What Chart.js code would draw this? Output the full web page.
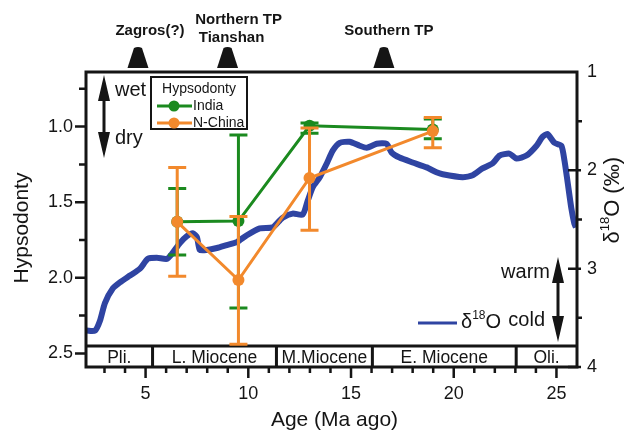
<!DOCTYPE html>
<html>
<head>
<meta charset="utf-8">
<script src="https://cdn.jsdelivr.net/npm/chart.js@4.4.1/dist/chart.umd.min.js"></script>
<style>
  html, body { margin: 0; padding: 0; background: #fff; }
  #wrap { width: 630px; height: 431px; }
</style>
</head>
<body>
<div id="wrap"><canvas id="chart"></canvas></div>
<script>
// hypsodonty means and error bars, per sample age (Ma)
const sampleAges = [6.54, 9.52, 12.98, 18.98];
const indiaHyp = [1.63, 1.625, 0.995, 1.02];
const indiaLow = [1.41, 1.055, 0.976, 0.95];
const indiaHigh = [1.85, 2.2, 1.044, 1.08];
const chinaHyp = [1.63, 2.015, 1.34, 1.03];
const chinaLow = [1.27, 1.595, 1.01, 0.94];
const chinaHigh = [1.99, 2.44, 1.685, 1.14];

// benthic d18O curve (right axis)
const isoAges = [2.13, 2.54, 2.78, 3.02, 3.41, 3.75, 4.24, 4.73, 5.11, 5.55, 6.04, 6.28, 6.67, 7.01, 7.30, 7.50,
  7.64, 7.98, 8.47, 8.95, 9.44, 9.93, 10.56, 11.19, 11.53, 11.68, 12.16, 12.65, 12.89, 13.14, 13.48, 13.82,
  14.11, 14.45, 14.93, 15.42, 15.76, 16.25, 16.73, 16.98, 17.36, 18.00, 18.68, 19.16, 19.46, 20.43, 20.92,
  21.40, 21.89, 22.23, 22.71, 23.05, 23.54, 24.03, 24.32, 24.56, 24.90, 25.24, 25.39, 25.53, 25.72, 25.87, 25.95];
const isoValues = [3.63, 3.63, 3.53, 3.35, 3.20, 3.14, 3.07, 3.00, 2.90, 2.89, 2.90, 2.85, 2.74, 2.67, 2.64, 2.68,
  2.81, 2.81, 2.79, 2.76, 2.73, 2.66, 2.59, 2.58, 2.51, 2.48, 2.44, 2.45, 2.31, 2.17, 2.07, 1.93,
  1.80, 1.72, 1.71, 1.75, 1.77, 1.73, 1.73, 1.82, 1.87, 1.92, 1.97, 2.02, 2.04, 2.07, 2.05,
  1.98, 1.93, 1.85, 1.83, 1.88, 1.85, 1.75, 1.66, 1.63, 1.72, 1.75, 1.90, 2.10, 2.38, 2.54, 2.58];

// tick labels
const ageTicks = [5, 10, 15, 20, 25];
const hypTicks = [1.0, 1.5, 2.0, 2.5];
const isoTicks = [1, 2, 3, 4];

// epochs along the bottom strip
const epochNames = ['Pli.', 'L. Miocene', 'M.Miocene', 'E. Miocene', 'Oli.'];
const epochBounds = [2.1, 5.34, 11.37, 16.04, 23.04, 26];

// uplift events marked above the plot
const upliftAges = [4.63, 8.99, 16.6];
const upliftLabels = [['Zagros(?)'], ['Northern TP', 'Tianshan'], ['Southern TP']];

const FONT = '"Liberation Sans", Arial, Helvetica, sans-serif';
const INK = '#151515';
const GREEN = '#1b8a1f';
const ORANGE = '#f2892c';
const BLUE = '#2f44a2';

Chart.defaults.font.family = FONT;
Chart.defaults.color = INK;

const toPoints = (xs, ys) => xs.map((v, i) => ({ x: v, y: ys[i] }));
const fixedTicks = values => scale => { scale.ticks = values.map(v => ({ value: v })); };

// error bars keyed by dataset index
const errorBars = {
    0: { low: chinaLow, high: chinaHigh, color: ORANGE },
    1: { low: indiaLow, high: indiaHigh, color: GREEN }
};

function arrowHead(ctx, x, tipY, dir, len, halfW) {
    ctx.beginPath();
    ctx.moveTo(x, tipY);
    ctx.lineTo(x - halfW, tipY + dir * len);
    ctx.lineTo(x + halfW, tipY + dir * len);
    ctx.closePath();
    ctx.fill();
}

function doubleArrow(ctx, x, y1, y2) {
    ctx.fillStyle = INK;
    ctx.strokeStyle = INK;
    ctx.lineWidth = 3;
    ctx.beginPath();
    ctx.moveTo(x, y1 + 10);
    ctx.lineTo(x, y2 - 10);
    ctx.stroke();
    arrowHead(ctx, x, y1, 1, 26, 6);
    arrowHead(ctx, x, y2, -1, 26, 6);
}

// d18O with a raised 18
function drawIsoLabel(ctx, x, y, size) {
    ctx.textBaseline = 'middle';
    ctx.textAlign = 'left';
    ctx.font = size + 'px ' + FONT;
    ctx.fillText('\u03B4', x, y);
    let w = ctx.measureText('\u03B4').width;
    ctx.font = Math.round(size * 0.6) + 'px ' + FONT;
    ctx.fillText('18', x + w, y - size * 0.33);
    w += ctx.measureText('18').width;
    ctx.font = size + 'px ' + FONT;
    ctx.fillText('O', x + w, y);
    return w + ctx.measureText('O').width;
}

const decor = {
    id: 'decor',
    beforeDatasetsDraw(chart) {
        const { ctx, chartArea: ca, scales: { x } } = chart;
        const top = ca.bottom - 21;
        ctx.save();
        ctx.strokeStyle = INK;
        ctx.lineWidth = 3;
        ctx.beginPath();
        ctx.moveTo(ca.left, top);
        ctx.lineTo(ca.right, top);
        epochBounds.slice(1, -1).forEach(a => {
            const px = x.getPixelForValue(a);
            ctx.moveTo(px, top);
            ctx.lineTo(px, ca.bottom);
        });
        ctx.stroke();
        ctx.fillStyle = INK;
        ctx.font = '17.5px ' + FONT;
        ctx.textAlign = 'center';
        ctx.textBaseline = 'middle';
        epochNames.forEach((n, i) => {
            const l = Math.max(x.getPixelForValue(epochBounds[i]), ca.left);
            const r = Math.min(x.getPixelForValue(epochBounds[i + 1]), ca.right);
            ctx.fillText(n, (l + r) / 2, top + 12);
        });
        ctx.restore();
    },
    beforeDatasetDraw(chart, args) {
        const bars = errorBars[args.index];
        if (!bars) return;
        const { ctx, scales: { x, y } } = chart;
        ctx.save();
        ctx.strokeStyle = bars.color;
        ctx.lineWidth = 3;
        ctx.beginPath();
        sampleAges.forEach((a, i) => {
            const px = x.getPixelForValue(a);
            const y1 = y.getPixelForValue(bars.low[i]);
            const y2 = y.getPixelForValue(bars.high[i]);
            ctx.moveTo(px, y1);
            ctx.lineTo(px, y2);
            ctx.moveTo(px - 9, y1);
            ctx.lineTo(px + 9, y1);
            ctx.moveTo(px - 9, y2);
            ctx.lineTo(px + 9, y2);
        });
        ctx.stroke();
        ctx.restore();
    },
    afterDraw(chart) {
        const { ctx, chartArea: ca, scales: { x, y, y2 } } = chart;
        ctx.save();

        // frame
        ctx.strokeStyle = INK;
        ctx.lineWidth = 3;
        ctx.strokeRect(ca.left, ca.top, ca.right - ca.left, ca.bottom - ca.top);

        // tick marks
        ctx.lineWidth = 2.5;
        ctx.beginPath();
        for (let a = 3; a <= 25; a++) {
            const px = x.getPixelForValue(a);
            ctx.moveTo(px, ca.bottom);
            ctx.lineTo(px, ca.bottom + (a % 5 === 0 ? 11 : 6));
        }
        for (let v = 0.75; v <= 2.5001; v += 0.25) {
            const py = y.getPixelForValue(v);
            const major = Math.abs(v * 2 - Math.round(v * 2)) < 1e-6;
            ctx.moveTo(ca.left, py);
            ctx.lineTo(ca.left - (major ? 11 : 7), py);
        }
        for (let v = 1.5; v <= 4; v += 0.5) {
            const py = y2.getPixelForValue(v);
            if (Number.isInteger(v)) {
                ctx.moveTo(ca.right - 9, py);
                ctx.lineTo(ca.right + 4, py);
            } else {
                ctx.moveTo(ca.right, py);
                ctx.lineTo(ca.right + 5, py);
            }
        }
        ctx.stroke();

        // axis titles
        ctx.fillStyle = INK;
        ctx.font = '21px ' + FONT;
        ctx.textAlign = 'center';
        ctx.textBaseline = 'middle';
        ctx.fillText('Age (Ma ago)', (ca.left + ca.right) / 2 + 3, 420);
        ctx.save();
        ctx.translate(22, 228);
        ctx.rotate(-Math.PI / 2);
        ctx.fillText('Hypsodonty', 0, 0);
        ctx.restore();
        ctx.save();
        ctx.translate(613, 202);
        ctx.rotate(-Math.PI / 2);
        ctx.font = '22px ' + FONT;
        const wIso = ctx.measureText('\u03B4O (\u2030)').width + 11;
        const w0 = drawIsoLabel(ctx, -wIso / 2, 0, 22);
        ctx.font = '22px ' + FONT;
        ctx.textAlign = 'left';
        ctx.fillText(' (\u2030)', -wIso / 2 + w0, 0);
        ctx.restore();

        // wet / dry and warm / cold arrows
        doubleArrow(ctx, ca.left + 18, ca.top + 3, ca.top + 86);
        ctx.font = '20px ' + FONT;
        ctx.textAlign = 'left';
        ctx.textBaseline = 'middle';
        ctx.fillText('wet', ca.left + 29, ca.top + 18);
        ctx.fillText('dry', ca.left + 29, ca.top + 66);
        doubleArrow(ctx, ca.right - 19, ca.top + 185, ca.top + 270);
        ctx.textAlign = 'right';
        ctx.fillText('warm', ca.right - 27, ca.top + 200);
        ctx.fillText('cold', ca.right - 32, ca.top + 248);

        // d18O legend entry
        ctx.strokeStyle = BLUE;
        ctx.lineWidth = 3;
        ctx.beginPath();
        ctx.moveTo(ca.left + 332, ca.top + 251);
        ctx.lineTo(ca.left + 371, ca.top + 251);
        ctx.stroke();
        ctx.fillStyle = INK;
        drawIsoLabel(ctx, ca.left + 375, ca.top + 250, 20);

        // hypsodonty legend box
        const bx = ca.left + 65, by = ca.top + 5;
        ctx.strokeStyle = INK;
        ctx.lineWidth = 2;
        ctx.fillStyle = '#fff';
        ctx.fillRect(bx, by, 96, 52);
        ctx.strokeRect(bx, by, 96, 52);
        ctx.fillStyle = INK;
        ctx.font = '14px ' + FONT;
        ctx.textAlign = 'center';
        ctx.fillText('Hypsodonty', bx + 48, by + 12);
        chart.data.datasets.slice(0, 2).reverse().forEach((ds, i) => {
            const ry = by + 29 + i * 17;
            ctx.strokeStyle = ds.borderColor;
            ctx.lineWidth = 3;
            ctx.beginPath();
            ctx.moveTo(bx + 6, ry);
            ctx.lineTo(bx + 41, ry);
            ctx.stroke();
            ctx.fillStyle = ds.borderColor;
            ctx.beginPath();
            ctx.arc(bx + 23, ry, 5.5, 0, Math.PI * 2);
            ctx.fill();
            ctx.fillStyle = INK;
            ctx.textAlign = 'left';
            ctx.fillText(ds.label, bx + 42, ry);
        });

        // uplift markers
        ctx.fillStyle = INK;
        ctx.font = 'bold 15px ' + FONT;
        ctx.textAlign = 'center';
        upliftAges.forEach((a, i) => {
            const px = x.getPixelForValue(a);
            const base = ca.top - 4, tip = ca.top - 25;
            ctx.beginPath();
            ctx.moveTo(px - 10.5, base);
            ctx.lineTo(px + 10.5, base);
            ctx.lineTo(px + 4, tip + 1);
            ctx.quadraticCurveTo(px, tip - 1, px - 4, tip + 1);
            ctx.closePath();
            ctx.fill();
            const lines = upliftLabels[i];
            if (lines.length === 1) {
                ctx.fillText(lines[0], px + (i === 0 ? 12 : 5), ca.top - 41);
            } else {
                ctx.fillText(lines[0], px + 11, ca.top - 52);
                ctx.fillText(lines[1], px + 4, ca.top - 34);
            }
        });
        ctx.restore();
    }
};

new Chart(document.getElementById('chart'), {
    type: 'line',
    data: {
        datasets: [{
            label: 'N-China',
            data: toPoints(sampleAges, chinaHyp),
            yAxisID: 'y',
            borderColor: ORANGE,
            backgroundColor: ORANGE,
            borderWidth: 3,
            pointRadius: 6,
            pointBorderWidth: 0,
            tension: 0
        }, {
            label: 'India',
            data: toPoints(sampleAges, indiaHyp),
            yAxisID: 'y',
            borderColor: GREEN,
            backgroundColor: GREEN,
            borderWidth: 3,
            pointRadius: 6,
            pointBorderWidth: 0,
            tension: 0
        }, {
            label: 'd18O',
            data: toPoints(isoAges, isoValues),
            yAxisID: 'y2',
            borderColor: BLUE,
            borderWidth: 6,
            pointRadius: 0,
            tension: 0.2,
            borderJoinStyle: 'round'
        }]
    },
    options: {
        responsive: true,
        maintainAspectRatio: false,
        animation: false,
        layout: { padding: { top: 72, left: 0, right: 0, bottom: 0 } },
        plugins: { legend: { display: false }, tooltip: { enabled: false } },
        scales: {
            x: {
                type: 'linear',
                min: 2.1,
                max: 26,
                grid: { display: false, drawTicks: false },
                border: { display: false },
                afterBuildTicks: fixedTicks(ageTicks),
                ticks: {
                    autoSkip: false,
                    maxRotation: 0,
                    padding: 16,
                    font: { size: 18 },
                    callback: v => v
                },
                afterFit: s => { s.height = 64; }
            },
            y: {
                position: 'left',
                reverse: true,
                min: 0.639,
                max: 2.59,
                grid: { display: false, drawTicks: false },
                border: { display: false },
                afterBuildTicks: fixedTicks(hypTicks),
                ticks: {
                    autoSkip: false,
                    padding: 13,
                    font: { size: 18 },
                    callback: v => v.toFixed(1)
                },
                afterFit: s => { s.width = 86; }
            },
            y2: {
                position: 'right',
                reverse: true,
                min: 1,
                max: 4,
                grid: { display: false, drawTicks: false },
                border: { display: false },
                afterBuildTicks: fixedTicks(isoTicks),
                ticks: {
                    autoSkip: false,
                    padding: 10,
                    font: { size: 18 },
                    callback: v => v
                },
                afterFit: s => { s.width = 53; }
            }
        }
    },
    plugins: [decor]
});
</script>
</body>
</html>
